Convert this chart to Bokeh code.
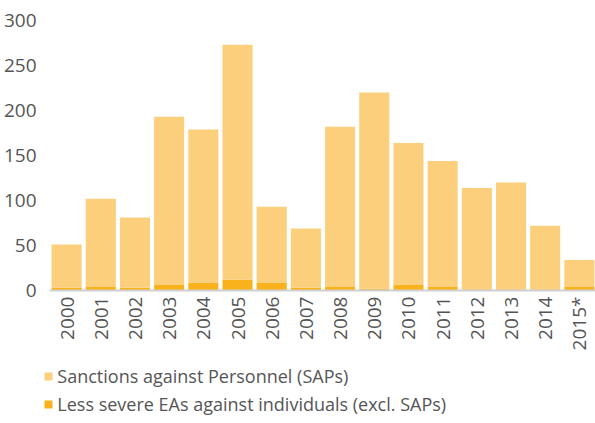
from bokeh.plotting import figure
from bokeh.models import ColumnDataSource, Range1d, Legend, LegendItem, FactorRange
from bokeh.layouts import column
from bokeh.embed import file_html
from bokeh.resources import INLINE
import math

years = ["2000", "2001", "2002", "2003", "2004", "2005", "2006", "2007",
         "2008", "2009", "2010", "2011", "2012", "2013", "2014", "2015*"]
totals = [51, 102, 81, 193, 179, 273, 93, 69, 182, 220, 164, 144, 114, 120, 72, 34]
eas = [3, 4, 3, 6, 9, 12, 9, 3, 4, 2, 6, 4, 0, 0, 0, 4]
saps = [t - e for t, e in zip(totals, eas)]
series_labels = ["Sanctions against Personnel (SAPs)",
                 "Less severe EAs against individuals (excl. SAPs)"]

LIGHT = "#FBCF7C"
DARK = "#F9B21B"
FONT = "Open Sans"
GREY = "#555555"

src = ColumnDataSource(dict(year=years, ea=eas, sap=saps))

p = figure(x_range=FactorRange(*years, range_padding=0), y_range=Range1d(0, 300),
           frame_width=547, frame_height=270, output_backend="svg", toolbar_location=None,
           min_border=0, min_border_top=20, min_border_left=40, min_border_right=0, min_border_bottom=70)

rs = p.vbar_stack(["ea", "sap"], x="year", width=0.88, source=src,
                  color=[DARK, LIGHT], line_color=None)

p.xgrid.grid_line_color = None
p.ygrid.grid_line_color = None
p.outline_line_color = None

p.yaxis.ticker = [0, 50, 100, 150, 200, 250, 300]
p.yaxis.axis_line_color = None
p.yaxis.major_tick_line_color = None
p.yaxis.minor_tick_line_color = None
p.yaxis.major_label_standoff = 7
p.yaxis.major_label_text_font = FONT
p.yaxis.major_label_text_font_size = "19px"
p.yaxis.major_label_text_color = GREY

p.xaxis.axis_line_color = "#D0D0D0"
p.xaxis.axis_line_width = 2
p.xaxis.major_tick_line_color = None
p.xaxis.major_tick_out = 0
p.xaxis.major_label_standoff = 6
p.xaxis.major_label_orientation = math.pi / 2
p.xaxis.major_label_text_font = FONT
p.xaxis.major_label_text_font_size = "19px"
p.xaxis.major_label_text_color = GREY

# legend figure below the chart
p2 = figure(x_range=Range1d(0, 1), y_range=Range1d(0, 1), frame_width=547, frame_height=60,
            x_axis_type=None, y_axis_type=None,
            output_backend="svg", toolbar_location=None,
            min_border=0, min_border_top=0, min_border_left=40, min_border_right=0, min_border_bottom=0)
p2.grid.visible = False
p2.outline_line_color = None
legend_src = ColumnDataSource(dict(x=[5], top=[1]))
r_sap = p2.vbar(x="x", top="top", width=0.1, source=legend_src, color=LIGHT, line_color=None)
r_ea = p2.vbar(x="x", top="top", width=0.1, source=legend_src, color=DARK, line_color=None)

legend = Legend(items=[LegendItem(label=series_labels[0], renderers=[r_sap]),
                       LegendItem(label=series_labels[1], renderers=[r_ea])],
                location=(30, 4), orientation="vertical",
                glyph_width=10, glyph_height=10, label_standoff=4,
                label_text_font=FONT, label_text_font_size="18px", label_text_color=GREY,
                label_text_line_height=1.0,
                label_height=20, spacing=4, padding=0, margin=0,
                border_line_color=None, background_fill_alpha=0)
p2.add_layout(legend, "center")

layout = column(p, p2, spacing=0)
open("out.html", "w").write(file_html(layout, INLINE))
